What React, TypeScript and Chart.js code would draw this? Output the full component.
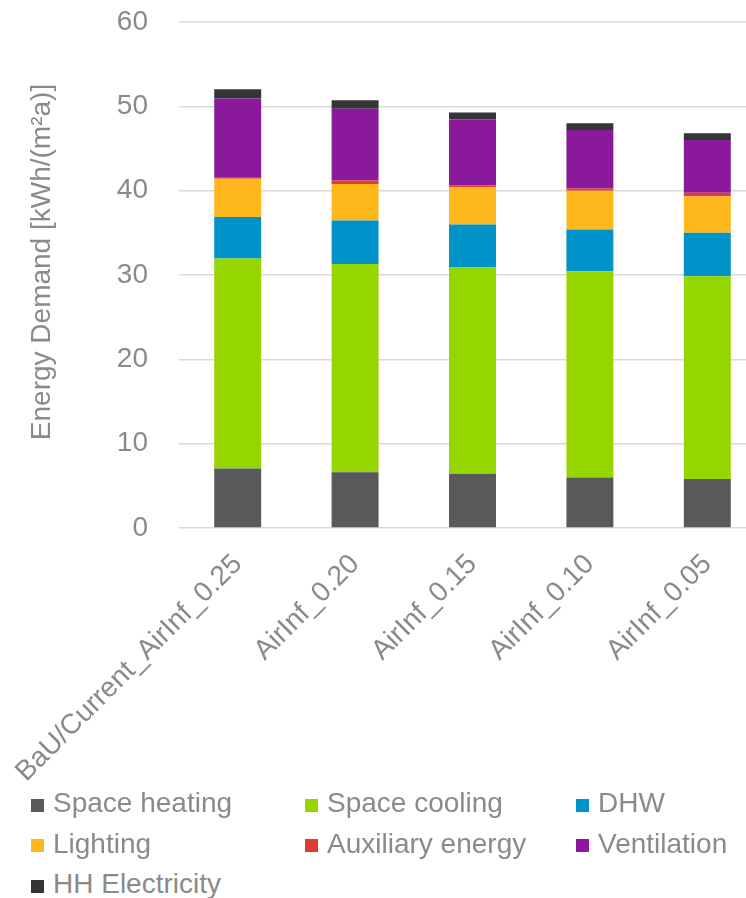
import React, { useEffect, useRef } from "react";
import { Chart, registerables } from "chart.js";

Chart.register(...registerables);

const categories = ["BaU/Current_AirInf_0.25", "AirInf_0.20", "AirInf_0.15", "AirInf_0.10", "AirInf_0.05"];
const seriesNames = ["Space heating", "Space cooling", "DHW", "Lighting", "Auxiliary energy", "Ventilation", "HH Electricity"];
const seriesColors = ["#58595b", "#96d600", "#0093c9", "#ffb81c", "#e03c31", "#8a1a9b", "#333536"];
const spaceHeating = [7.07, 6.6, 6.44, 6.0, 5.8];
const spaceCooling = [24.9, 24.7, 24.46, 24.45, 24.05];
const dhw = [4.9, 5.15, 5.1, 4.95, 5.15];
const lighting = [4.55, 4.35, 4.4, 4.6, 4.35];
const auxiliaryEnergy = [0.2, 0.42, 0.2, 0.25, 0.4];
const ventilation = [9.3, 8.5, 7.83, 6.95, 6.26];
const hhElectricity = [1.1, 1.0, 0.84, 0.8, 0.8];
const seriesValues = [spaceHeating, spaceCooling, dhw, lighting, auxiliaryEnergy, ventilation, hhElectricity];
const yTitle = "Energy Demand [kWh/(m²a)]";

const FONT = "'Liberation Sans', Arial, sans-serif";
const GRAY = "#8a8a8a";

const titlePlugin = {
  id: "sideTitle",
  afterDraw(chart: any) {
    const ctx = chart.ctx;
    ctx.save();
    ctx.translate(42, 262);
    ctx.rotate(-Math.PI / 2);
    ctx.font = `28px ${FONT}`;
    ctx.fillStyle = GRAY;
    ctx.textAlign = "center";
    ctx.textBaseline = "middle";
    ctx.fillText(yTitle, 0, 0);
    ctx.restore();
  },
};

export default function App() {
  const ref = useRef<HTMLCanvasElement>(null);
  useEffect(() => {
    if (!ref.current) return;
    const chart = new Chart(ref.current, {
      type: "bar",
      data: {
        labels: categories,
        datasets: seriesNames.map((name, i) => ({
          label: name,
          data: seriesValues[i],
          backgroundColor: seriesColors[i],
          borderWidth: 0,
          barPercentage: 0.4,
          categoryPercentage: 1,
        })),
      },
      options: {
        animation: false,
        responsive: false,
        devicePixelRatio: 1,
        layout: { padding: { top: 22, right: 34, left: 0, bottom: 0 } },
        plugins: { legend: { display: false }, tooltip: { enabled: false } },
        scales: {
          x: {
            stacked: true,
            grid: { display: false },
            border: { display: false },
            ticks: {
              autoSkip: false,
              minRotation: 45,
              maxRotation: 45,
              padding: 12,
              color: GRAY,
              font: { family: FONT, size: 28 },
            },
            afterFit(scale: any) {
              scale.height = 790 - 528;
              scale.paddingLeft = 0;
              scale.paddingRight = 0;
              scale.paddingTop = 0;
              scale.paddingBottom = 0;
            },
          },
          y: {
            stacked: true,
            min: 0,
            max: 60,
            ticks: {
              stepSize: 10,
              padding: 31,
              color: GRAY,
              font: { family: FONT, size: 28 },
            },
            grid: { color: "#d9d9d9", lineWidth: 1.5, drawTicks: false },
            border: { display: false },
            afterFit(scale: any) {
              scale.width = 179;
              scale.paddingTop = 0;
              scale.paddingBottom = 0;
              scale.paddingLeft = 0;
              scale.paddingRight = 0;
            },
          },
        },
      },
      plugins: [titlePlugin],
    });
    return () => chart.destroy();
  }, []);

  const cols = [31, 305, 576];
  return (
    <div style={{ position: "absolute", left: 0, top: 0, width: 746, height: 898, overflow: "hidden", background: "#fff" }}>
      <canvas ref={ref} width={800} height={790} style={{ position: "absolute", left: 0, top: 0, width: 800, height: 790 }} />
      {seriesNames.map((name, i) => {
        const col = i % 3;
        const row = Math.floor(i / 3);
        const top = 783 + row * 40.5;
        return (
          <div key={name} style={{ position: "absolute", left: cols[col], top, height: 40, whiteSpace: "nowrap" }}>
            <span style={{ position: "absolute", left: 0, top: 15.5, width: 13, height: 13, background: seriesColors[i] }} />
            <span style={{ position: "absolute", left: 22, top: 0, font: `28px ${FONT}`, lineHeight: "40px", color: GRAY }}>{name}</span>
          </div>
        );
      })}
    </div>
  );
}
